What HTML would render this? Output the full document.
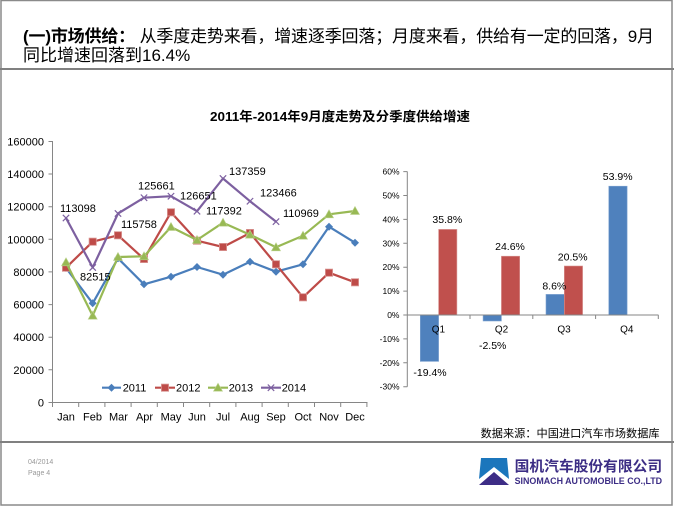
<!DOCTYPE html>
<html><head><meta charset="utf-8"><style>
html,body{margin:0;padding:0;background:#fff;}
svg{display:block;}
text{font-family:"Liberation Sans","Noto Sans CJK SC",sans-serif;}
</style></head><body>
<svg width="674" height="506" viewBox="0 0 674 506" xmlns="http://www.w3.org/2000/svg">
<rect x="0" y="0" width="674" height="506" fill="#fff"/>
<!-- page frame -->
<rect x="1" y="0.5" width="671" height="504.5" fill="none" stroke="#8a8a8a" stroke-width="1.5"/>
<line x1="0" y1="69" x2="674" y2="69" stroke="#808080" stroke-width="2"/>
<line x1="0" y1="442" x2="674" y2="442" stroke="#808080" stroke-width="2"/>

<!-- heading -->
<text x="23" y="42" font-size="17" fill="#000" textLength="631" lengthAdjust="spacing"><tspan font-weight="bold">(一)市场供给：</tspan> 从季度走势来看，增速逐季回落；月度来看，供给有一定的回落，9月</text>
<text x="23" y="61" font-size="17" fill="#000">同比增速回落到16.4%</text>

<!-- chart title -->
<text x="210" y="121" font-size="13" font-weight="bold" fill="#000" textLength="260" lengthAdjust="spacingAndGlyphs">2011年-2014年9月度走势及分季度供给增速</text>

<!-- LEFT CHART axes -->
<g stroke="#868686" stroke-width="1" fill="none">
<line x1="52.5" y1="141" x2="52.5" y2="402.5"/>
<line x1="52.5" y1="402.5" x2="367.5" y2="402.5"/>
<path d="M48.5 141.5H52.5M48.5 174H52.5M48.5 206.7H52.5M48.5 239.3H52.5M48.5 271.9H52.5M48.5 304.6H52.5M48.5 337.2H52.5M48.5 369.8H52.5M48.5 402.5H52.5"/>
<path d="M52.5 402.5V407M78.7 402.5V407M104.9 402.5V407M131.1 402.5V407M157.3 402.5V407M183.5 402.5V407M209.7 402.5V407M235.9 402.5V407M262.1 402.5V407M288.3 402.5V407M314.5 402.5V407M340.7 402.5V407M366.9 402.5V407"/>
</g>
<g font-size="11" fill="#000" text-anchor="end">
<text x="44" y="145.5">160000</text>
<text x="44" y="178">140000</text>
<text x="44" y="210.7">120000</text>
<text x="44" y="243.3">100000</text>
<text x="44" y="275.9">80000</text>
<text x="44" y="308.6">60000</text>
<text x="44" y="341.2">40000</text>
<text x="44" y="373.8">20000</text>
<text x="44" y="406.5">0</text>
</g>
<g font-size="11" fill="#000" text-anchor="middle">
<text x="66" y="420.5">Jan</text>
<text x="92.5" y="420.5">Feb</text>
<text x="118.5" y="420.5">Mar</text>
<text x="144.5" y="420.5">Apr</text>
<text x="171" y="420.5">May</text>
<text x="197" y="420.5">Jun</text>
<text x="223" y="420.5">Jul</text>
<text x="250" y="420.5">Aug</text>
<text x="276" y="420.5">Sep</text>
<text x="303" y="420.5">Oct</text>
<text x="329" y="420.5">Nov</text>
<text x="355" y="420.5">Dec</text>
</g>

<defs>
<path id="dia" d="M0 -4L4 0L0 4L-4 0Z" fill="#4A7EBB"/>
<rect id="sq" x="-3.6" y="-3.6" width="7.2" height="7.2" fill="#BE4B48" stroke="#D99795" stroke-width="0.8"/>
<path id="tri" d="M0 -4.5L4.5 3.5L-4.5 3.5Z" fill="#98B954" stroke="#B9D08A" stroke-width="0.6"/>
<path id="xx" d="M-3.2 -3.2L3.2 3.2M-3.2 3.2L3.2 -3.2" stroke="#7D60A0" stroke-width="1.2" fill="none"/>
</defs>

<!-- 2011 -->
<polyline fill="none" stroke="#4A7EBB" stroke-width="2.2" stroke-linejoin="round" points="66,268 92.7,303.3 118,258.3 144,284.3 171,276.7 197,267 223,274.7 250,261.7 276,271.7 303,264.3 329,226.7 355,242.7"/>
<g><use href="#dia" x="66" y="268"/><use href="#dia" x="92.7" y="303.3"/><use href="#dia" x="118" y="258.3"/><use href="#dia" x="144" y="284.3"/><use href="#dia" x="171" y="276.7"/><use href="#dia" x="197" y="267"/><use href="#dia" x="223" y="274.7"/><use href="#dia" x="250" y="261.7"/><use href="#dia" x="276" y="271.7"/><use href="#dia" x="303" y="264.3"/><use href="#dia" x="329" y="226.7"/><use href="#dia" x="355" y="242.7"/></g>
<!-- 2012 -->
<polyline fill="none" stroke="#BE4B48" stroke-width="2.2" stroke-linejoin="round" points="66,267.7 92.7,241.7 118,235.3 144,259 171,212.3 197,240.7 223,247 250,233 276,264.3 303,297.3 329,272.7 355,282.3"/>
<g><use href="#sq" x="66" y="267.7"/><use href="#sq" x="92.7" y="241.7"/><use href="#sq" x="118" y="235.3"/><use href="#sq" x="144" y="259"/><use href="#sq" x="171" y="212.3"/><use href="#sq" x="197" y="240.7"/><use href="#sq" x="223" y="247"/><use href="#sq" x="250" y="233"/><use href="#sq" x="276" y="264.3"/><use href="#sq" x="303" y="297.3"/><use href="#sq" x="329" y="272.7"/><use href="#sq" x="355" y="282.3"/></g>
<!-- 2013 -->
<polyline fill="none" stroke="#98B954" stroke-width="2.2" stroke-linejoin="round" points="66,262.3 92.7,315.7 118,257 144,256.3 171,227 197,240 223,222.7 250,234.7 276,247.3 303,235.7 329,214.3 355,211"/>
<g><use href="#tri" x="66" y="262.3"/><use href="#tri" x="92.7" y="315.7"/><use href="#tri" x="118" y="257"/><use href="#tri" x="144" y="256.3"/><use href="#tri" x="171" y="227"/><use href="#tri" x="197" y="240"/><use href="#tri" x="223" y="222.7"/><use href="#tri" x="250" y="234.7"/><use href="#tri" x="276" y="247.3"/><use href="#tri" x="303" y="235.7"/><use href="#tri" x="329" y="214.3"/><use href="#tri" x="355" y="211"/></g>
<!-- 2014 -->
<polyline fill="none" stroke="#7D60A0" stroke-width="2.2" stroke-linejoin="round" points="66,218 92.7,267.5 118,213.5 144,197.7 171,196.2 197,211.2 223,178.5 250,201.2 276,221.6"/>
<g><use href="#xx" x="66" y="218"/><use href="#xx" x="92.7" y="267.5"/><use href="#xx" x="118" y="213.5"/><use href="#xx" x="144" y="197.7"/><use href="#xx" x="171" y="196.2"/><use href="#xx" x="197" y="211.2"/><use href="#xx" x="223" y="178.5"/><use href="#xx" x="250" y="201.2"/><use href="#xx" x="276" y="221.6"/></g>

<g font-size="11" fill="#000">
<text x="60" y="212">113098</text>
<text x="80" y="280.5">82515</text>
<text x="121" y="228">115758</text>
<text x="138" y="189.5">125661</text>
<text x="180" y="199.5">126651</text>
<text x="206" y="214.5">117392</text>
<text x="229" y="175">137359</text>
<text x="260" y="196.5">123466</text>
<text x="283" y="217">110969</text>
</g>

<!-- legend -->
<g>
<line x1="102" y1="387.7" x2="121" y2="387.7" stroke="#4A7EBB" stroke-width="2.2"/><use href="#dia" x="111.5" y="387.7"/>
<line x1="155" y1="387.7" x2="175" y2="387.7" stroke="#BE4B48" stroke-width="2.2"/><use href="#sq" x="165" y="387.7"/>
<line x1="208" y1="387.7" x2="228" y2="387.7" stroke="#98B954" stroke-width="2.2"/><use href="#tri" x="218" y="387.7"/>
<line x1="261" y1="387.7" x2="281" y2="387.7" stroke="#7D60A0" stroke-width="2.2"/><use href="#xx" x="271" y="387.7"/>
</g>
<g font-size="11" fill="#000">
<text x="122.7" y="391.7">2011</text>
<text x="176" y="391.7">2012</text>
<text x="228.7" y="391.7">2013</text>
<text x="281.7" y="391.7">2014</text>
</g>

<!-- RIGHT CHART -->
<g stroke="#868686" stroke-width="1" fill="none">
<line x1="407.3" y1="171.5" x2="407.3" y2="386.7"/>
<path d="M403.3 171.6H407.3M403.3 195.5H407.3M403.3 219.4H407.3M403.3 243.3H407.3M403.3 267.2H407.3M403.3 291.1H407.3M403.3 315H407.3M403.3 338.9H407.3M403.3 362.8H407.3M403.3 386.7H407.3"/>
</g>
<g font-size="8.5" fill="#000" text-anchor="end">
<text x="399.5" y="174.6">60%</text>
<text x="399.5" y="198.5">50%</text>
<text x="399.5" y="222.4">40%</text>
<text x="399.5" y="246.3">30%</text>
<text x="399.5" y="270.2">20%</text>
<text x="399.5" y="294.1">10%</text>
<text x="399.5" y="318">0%</text>
<text x="399.5" y="341.9">-10%</text>
<text x="399.5" y="365.8">-20%</text>
<text x="399.5" y="389.7">-30%</text>
</g>
<!-- bars -->
<g>
<rect x="420.3" y="315" width="18.3" height="46.4" fill="#4F81BD" stroke="#7FA3D1" stroke-width="0.6"/>
<rect x="438.6" y="229.4" width="18.3" height="85.6" fill="#C0504D" stroke="#D99795" stroke-width="0.6"/>
<rect x="483.1" y="315" width="18.3" height="6" fill="#4F81BD" stroke="#7FA3D1" stroke-width="0.6"/>
<rect x="501.4" y="256.2" width="18.3" height="58.8" fill="#C0504D" stroke="#D99795" stroke-width="0.6"/>
<rect x="546" y="294.4" width="18.3" height="20.6" fill="#4F81BD" stroke="#7FA3D1" stroke-width="0.6"/>
<rect x="564.3" y="266" width="18.3" height="49" fill="#C0504D" stroke="#D99795" stroke-width="0.6"/>
<rect x="608.8" y="186.2" width="18.3" height="128.8" fill="#4F81BD" stroke="#7FA3D1" stroke-width="0.6"/>
</g>
<g stroke="#868686" stroke-width="1" fill="none">
<line x1="407.3" y1="315" x2="658.5" y2="315"/>
<path d="M470 315V319M532.8 315V319M595.6 315V319M658.3 315V319"/>
</g>
<g font-size="10" fill="#000" text-anchor="middle">
<text x="438.4" y="332.6">Q1</text>
<text x="501.5" y="332.6">Q2</text>
<text x="564" y="332.6">Q3</text>
<text x="626.8" y="332.6">Q4</text>
</g>
<g font-size="10.5" fill="#000" text-anchor="middle">
<text x="447.3" y="223.2">35.8%</text>
<text x="510" y="249.9">24.6%</text>
<text x="572.7" y="260.6">20.5%</text>
<text x="554.3" y="289.6">8.6%</text>
<text x="617.7" y="179.9">53.9%</text>
<text x="430" y="376.2">-19.4%</text>
<text x="492.7" y="348.9">-2.5%</text>
</g>

<!-- source -->
<text x="480.6" y="436.8" font-size="11" fill="#000" textLength="179" lengthAdjust="spacingAndGlyphs">数据来源：中国进口汽车市场数据库</text>

<!-- footer -->
<text x="28" y="464" font-size="7" fill="#999">04/2014</text>
<text x="28" y="475" font-size="7" fill="#999">Page 4</text>

<!-- logo -->
<polygon points="481,458 507,458 509,479 494,467 479,479" fill="#1B76BC"/>
<polygon points="479,485 494,472 509,485" fill="#3D2D86"/>
<text x="514.6" y="471.5" font-size="14.5" font-weight="bold" fill="#3C2D85" textLength="147.5" lengthAdjust="spacingAndGlyphs">国机汽车股份有限公司</text>
<text x="514.6" y="484" font-size="9.5" font-weight="bold" fill="#3C2D85" textLength="147.5" lengthAdjust="spacingAndGlyphs">SINOMACH AUTOMOBILE CO.,LTD</text>
</svg>
</body></html>
